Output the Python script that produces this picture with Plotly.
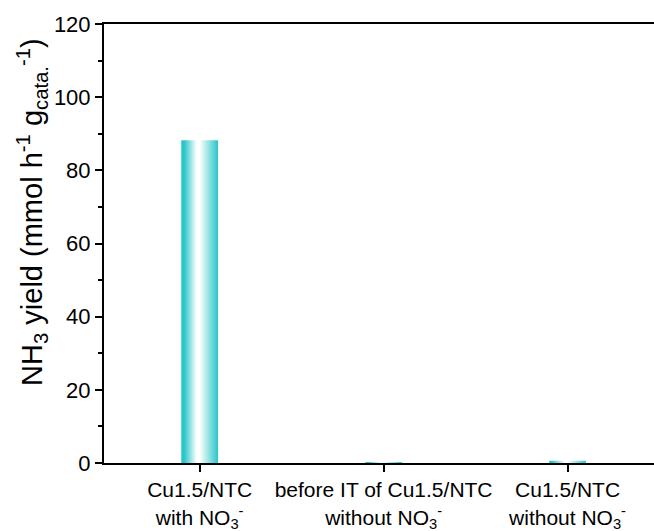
import plotly.graph_objects as go

# NH3 yield for each electrode / electrolyte condition
categories = [
    "Cu1.5/NTC<br>with NO<sub>3</sub><sup>-</sup>",
    "before IT of Cu1.5/NTC<br>without NO<sub>3</sub><sup>-</sup>",
    "Cu1.5/NTC<br>without NO<sub>3</sub><sup>-</sup>",
]
yields = [88.2, 0.3, 0.6]

y_ticks = [0, 20, 40, 60, 80, 100, 120]

TEAL = "rgb(40,198,200)"
BAR_WIDTH = 0.2
FONT = "Arial, Liberation Sans, sans-serif"

# cylinder-like shading: teal edges, white highlight just left of centre
shade = [
    [0.0, TEAL],
    [0.08, TEAL],
    [0.42, "white"],
    [0.5, "white"],
    [1.0, TEAL],
]

fig = go.Figure()
for i, v in enumerate(yields):
    x0, x1 = i - BAR_WIDTH / 2, i + BAR_WIDTH / 2
    fig.add_trace(go.Scatter(
        x=[x0, x0, x1, x1, x0],
        y=[0, v, v, 0, 0],
        mode="none",
        fill="toself",
        fillgradient=dict(type="horizontal", colorscale=shade),
        hoverinfo="skip",
        showlegend=False,
    ))

fig.update_layout(
    width=654,
    height=531,
    margin=dict(l=104, r=0, t=24, b=68),
    plot_bgcolor="white",
    paper_bgcolor="white",
    font=dict(family=FONT, color="black"),
    showlegend=False,
)

fig.update_xaxes(
    range=[-0.52, 2.47],
    tickvals=list(range(len(categories))),
    ticktext=categories,
    ticks="outside",
    ticklen=7,
    tickwidth=1.5,
    tickcolor="black",
    tickfont=dict(size=21, family=FONT),
    showline=True,
    linecolor="black",
    linewidth=2,
    mirror=True,
    showgrid=False,
    zeroline=False,
)

fig.update_yaxes(
    range=[0, 120],
    tickvals=y_ticks,
    ticks="outside",
    ticklen=7,
    tickwidth=1.5,
    tickcolor="black",
    tickfont=dict(size=22, family=FONT),
    minor=dict(dtick=10, ticks="outside", ticklen=4, tickwidth=1.5, tickcolor="black", showgrid=False),
    showline=True,
    linecolor="black",
    linewidth=2,
    showgrid=False,
    zeroline=False,
)

fig.add_annotation(
    text="NH<sub>3</sub> yield (mmol h<sup>-1</sup> g<sub>cata.</sub><sup>-1</sup>)",
    xref="paper", yref="paper",
    x=0, y=0.572,
    xshift=-72,
    xanchor="center", yanchor="middle",
    textangle=-90,
    showarrow=False,
    font=dict(size=29, family=FONT, color="black"),
)

fig.write_html("out.html")
